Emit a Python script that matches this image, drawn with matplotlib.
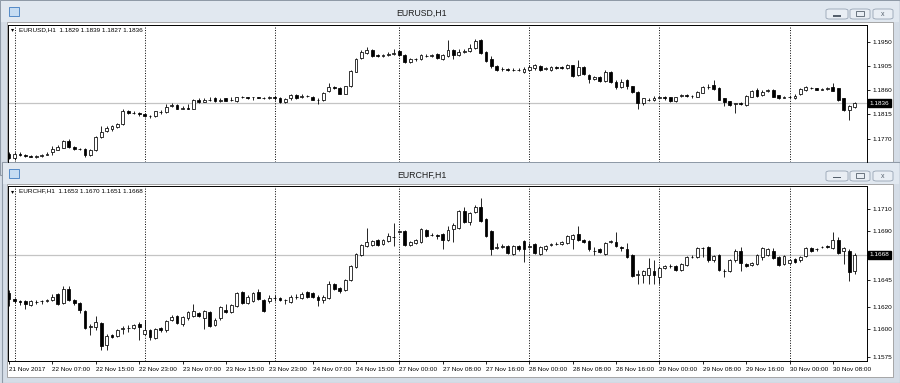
import matplotlib
matplotlib.use("Agg")
import matplotlib.pyplot as plt
import matplotlib.transforms as mtransforms
from matplotlib.patches import Rectangle, FancyBboxPatch
import numpy as np

W, H = 900, 383
FONT = ["Liberation Sans", "DejaVu Sans"]

# hourly bars: 21 Nov 2017 23:00 .. 30 Nov 2017 12:00
day_breaks = [1, 25, 49, 72, 96, 120, 144]
label_bars = [0, 8, 16, 24, 32, 40, 48, 56, 64, 72, 80, 88, 96, 104, 112, 120, 128, 136, 144, 152]
time_labels = ["21 Nov 2017", "22 Nov 07:00", "22 Nov 15:00", "22 Nov 23:00", "23 Nov 07:00",
               "23 Nov 15:00", "23 Nov 23:00", "24 Nov 07:00", "24 Nov 15:00", "27 Nov 00:00",
               "27 Nov 08:00", "27 Nov 16:00", "28 Nov 00:00", "28 Nov 08:00", "28 Nov 16:00",
               "29 Nov 00:00", "29 Nov 08:00", "29 Nov 16:00", "30 Nov 00:00", "30 Nov 08:00"]

usd_open = [1.1742, 1.1733, 1.1741, 1.1740, 1.1737, 1.1736, 1.1737, 1.1740, 1.1744, 1.1749,
            1.1753, 1.1766, 1.1754, 1.1750, 1.1751, 1.1739, 1.1749, 1.1773, 1.1784, 1.1787,
            1.1792, 1.1797, 1.1821, 1.1818, 1.1818, 1.1816, 1.1813, 1.1812, 1.1820, 1.1820,
            1.1830, 1.1833, 1.1826, 1.1827, 1.1826, 1.1843, 1.1839, 1.1843, 1.1845, 1.1840,
            1.1845, 1.1842, 1.1840, 1.1847, 1.1847, 1.1847, 1.1847, 1.1846, 1.1846, 1.1847,
            1.1845, 1.1839, 1.1845, 1.1852, 1.1847, 1.1850, 1.1848, 1.1843, 1.1842, 1.1859,
            1.1866, 1.1865, 1.1854, 1.1869, 1.1895, 1.1920, 1.1930, 1.1935, 1.1927, 1.1925,
            1.1926, 1.1929, 1.1933, 1.1927, 1.1913, 1.1918, 1.1918, 1.1925, 1.1924, 1.1928,
            1.1919, 1.1925, 1.1936, 1.1926, 1.1932, 1.1934, 1.1940, 1.1954, 1.1931, 1.1918,
            1.1906, 1.1900, 1.1900, 1.1898, 1.1898, 1.1895, 1.1899, 1.1901, 1.1906, 1.1900,
            1.1899, 1.1903, 1.1904, 1.1901, 1.1907, 1.1889, 1.1904, 1.1889, 1.1881, 1.1885,
            1.1878, 1.1895, 1.1876, 1.1867, 1.1879, 1.1868, 1.1857, 1.1836, 1.1842, 1.1842,
            1.1846, 1.1847, 1.1847, 1.1840, 1.1849, 1.1851, 1.1849, 1.1848, 1.1856, 1.1866,
            1.1870, 1.1865, 1.1845, 1.1840, 1.1835, 1.1836, 1.1833, 1.1848, 1.1861, 1.1851,
            1.1859, 1.1860, 1.1851, 1.1846, 1.1847, 1.1846, 1.1853, 1.1860, 1.1864, 1.1864,
            1.1861, 1.1862, 1.1866, 1.1864, 1.1845, 1.1823, 1.1829]
usd_high = [1.1744, 1.1745, 1.1744, 1.1742, 1.1739, 1.1740, 1.1742, 1.1744, 1.1756, 1.1758,
            1.1767, 1.1769, 1.1756, 1.1753, 1.1752, 1.1751, 1.1775, 1.1793, 1.1793, 1.1796,
            1.1800, 1.1825, 1.1823, 1.1822, 1.1820, 1.1817, 1.1814, 1.1822, 1.1823, 1.1835,
            1.1836, 1.1834, 1.1831, 1.1835, 1.1844, 1.1845, 1.1845, 1.1848, 1.1848, 1.1845,
            1.1846, 1.1847, 1.1848, 1.1849, 1.1848, 1.1848, 1.1848, 1.1848, 1.1849, 1.1849,
            1.1847, 1.1846, 1.1853, 1.1853, 1.1853, 1.1852, 1.1849, 1.1845, 1.1857, 1.1873,
            1.1868, 1.1867, 1.1869, 1.1898, 1.1920, 1.1935, 1.1942, 1.1937, 1.1929, 1.1928,
            1.1931, 1.1937, 1.1936, 1.1929, 1.1921, 1.1921, 1.1928, 1.1928, 1.1929, 1.1930,
            1.1928, 1.1955, 1.1938, 1.1937, 1.1937, 1.1946, 1.1957, 1.1956, 1.1933, 1.1924,
            1.1908, 1.1903, 1.1902, 1.1901, 1.1901, 1.1903, 1.1907, 1.1909, 1.1907, 1.1903,
            1.1905, 1.1905, 1.1906, 1.1909, 1.1908, 1.1917, 1.1906, 1.1890, 1.1887, 1.1887,
            1.1899, 1.1896, 1.1879, 1.1882, 1.1881, 1.1869, 1.1858, 1.1846, 1.1845, 1.1849,
            1.1850, 1.1850, 1.1848, 1.1848, 1.1853, 1.1853, 1.1851, 1.1858, 1.1868, 1.1872,
            1.1880, 1.1866, 1.1846, 1.1841, 1.1837, 1.1839, 1.1851, 1.1861, 1.1865, 1.1860,
            1.1863, 1.1862, 1.1852, 1.1849, 1.1850, 1.1853, 1.1864, 1.1869, 1.1866, 1.1865,
            1.1864, 1.1866, 1.1873, 1.1865, 1.1846, 1.1832, 1.1839]
usd_low = [1.1731, 1.1730, 1.1737, 1.1735, 1.1735, 1.1734, 1.1736, 1.1739, 1.1739, 1.1748,
           1.1752, 1.1753, 1.1748, 1.1748, 1.1736, 1.1737, 1.1747, 1.1771, 1.1782, 1.1785,
           1.1790, 1.1795, 1.1816, 1.1815, 1.1813, 1.1810, 1.1808, 1.1810, 1.1816, 1.1818,
           1.1829, 1.1825, 1.1825, 1.1825, 1.1825, 1.1837, 1.1838, 1.1841, 1.1839, 1.1839,
           1.1840, 1.1840, 1.1839, 1.1845, 1.1844, 1.1843, 1.1845, 1.1844, 1.1844, 1.1842,
           1.1837, 1.1837, 1.1843, 1.1844, 1.1846, 1.1847, 1.1842, 1.1835, 1.1840, 1.1857,
           1.1862, 1.1853, 1.1853, 1.1866, 1.1894, 1.1918, 1.1928, 1.1923, 1.1922, 1.1923,
           1.1925, 1.1927, 1.1924, 1.1912, 1.1911, 1.1915, 1.1916, 1.1922, 1.1923, 1.1919,
           1.1917, 1.1923, 1.1918, 1.1924, 1.1930, 1.1932, 1.1938, 1.1928, 1.1913, 1.1902,
           1.1896, 1.1897, 1.1896, 1.1896, 1.1896, 1.1893, 1.1897, 1.1899, 1.1897, 1.1898,
           1.1897, 1.1900, 1.1900, 1.1900, 1.1885, 1.1887, 1.1888, 1.1874, 1.1880, 1.1876,
           1.1876, 1.1874, 1.1862, 1.1864, 1.1862, 1.1855, 1.1826, 1.1833, 1.1840, 1.1840,
           1.1845, 1.1843, 1.1839, 1.1839, 1.1848, 1.1848, 1.1845, 1.1847, 1.1855, 1.1862,
           1.1861, 1.1842, 1.1831, 1.1830, 1.1817, 1.1832, 1.1831, 1.1847, 1.1848, 1.1849,
           1.1857, 1.1847, 1.1844, 1.1845, 1.1846, 1.1844, 1.1851, 1.1858, 1.1862, 1.1860,
           1.1860, 1.1860, 1.1858, 1.1840, 1.1821, 1.1805, 1.1827]
usd_close = [1.1733, 1.1741, 1.1740, 1.1737, 1.1736, 1.1737, 1.1740, 1.1741, 1.1751, 1.1755,
             1.1765, 1.1755, 1.1750, 1.1751, 1.1739, 1.1749, 1.1773, 1.1783, 1.1790, 1.1793,
             1.1797, 1.1822, 1.1818, 1.1818, 1.1815, 1.1812, 1.1813, 1.1821, 1.1819, 1.1829,
             1.1832, 1.1826, 1.1827, 1.1826, 1.1842, 1.1839, 1.1843, 1.1843, 1.1840, 1.1843,
             1.1841, 1.1842, 1.1847, 1.1847, 1.1846, 1.1847, 1.1846, 1.1846, 1.1847, 1.1846,
             1.1838, 1.1844, 1.1852, 1.1845, 1.1850, 1.1849, 1.1843, 1.1843, 1.1855, 1.1866,
             1.1865, 1.1854, 1.1868, 1.1896, 1.1918, 1.1932, 1.1936, 1.1925, 1.1924, 1.1926,
             1.1929, 1.1930, 1.1926, 1.1914, 1.1918, 1.1918, 1.1926, 1.1925, 1.1927, 1.1921,
             1.1926, 1.1936, 1.1926, 1.1932, 1.1934, 1.1940, 1.1953, 1.1930, 1.1915, 1.1906,
             1.1899, 1.1900, 1.1898, 1.1898, 1.1899, 1.1900, 1.1904, 1.1907, 1.1898, 1.1901,
             1.1904, 1.1902, 1.1901, 1.1907, 1.1887, 1.1904, 1.1890, 1.1881, 1.1885, 1.1878,
             1.1895, 1.1876, 1.1866, 1.1876, 1.1868, 1.1857, 1.1836, 1.1845, 1.1842, 1.1846,
             1.1847, 1.1846, 1.1840, 1.1847, 1.1851, 1.1850, 1.1849, 1.1857, 1.1867, 1.1867,
             1.1862, 1.1843, 1.1839, 1.1832, 1.1836, 1.1835, 1.1849, 1.1859, 1.1849, 1.1857,
             1.1861, 1.1848, 1.1845, 1.1847, 1.1848, 1.1850, 1.1862, 1.1866, 1.1864, 1.1861,
             1.1862, 1.1864, 1.1859, 1.1842, 1.1823, 1.1830, 1.1836]

chf_open = [1.1633, 1.1628, 1.1626, 1.1626, 1.1622, 1.1625, 1.1626, 1.1626, 1.1627, 1.1632,
            1.1624, 1.1637, 1.1627, 1.1624, 1.1617, 1.1602, 1.1602, 1.1606, 1.1586, 1.1595,
            1.1594, 1.1600, 1.1601, 1.1601, 1.1605, 1.1596, 1.1599, 1.1592, 1.1601, 1.1599,
            1.1609, 1.1612, 1.1605, 1.1610, 1.1612, 1.1615, 1.1610, 1.1616, 1.1604, 1.1610,
            1.1618, 1.1616, 1.1621, 1.1634, 1.1624, 1.1626, 1.1634, 1.1627, 1.1626, 1.1629,
            1.1629, 1.1627, 1.1625, 1.1630, 1.1629, 1.1634, 1.1633, 1.1630, 1.1627, 1.1629,
            1.1641, 1.1638, 1.1636, 1.1645, 1.1657, 1.1668, 1.1676, 1.1677, 1.1682, 1.1678,
            1.1681, 1.1684, 1.1689, 1.1690, 1.1677, 1.1679, 1.1680, 1.1691, 1.1686, 1.1686,
            1.1687, 1.1682, 1.1692, 1.1693, 1.1708, 1.1698, 1.1707, 1.1712, 1.1701, 1.1690,
            1.1674, 1.1675, 1.1676, 1.1669, 1.1676, 1.1681, 1.1675, 1.1678, 1.1669, 1.1673,
            1.1677, 1.1678, 1.1678, 1.1679, 1.1683, 1.1687, 1.1682, 1.1681, 1.1672, 1.1673,
            1.1669, 1.1680, 1.1680, 1.1675, 1.1673, 1.1668, 1.1650, 1.1650, 1.1650, 1.1653,
            1.1648, 1.1656, 1.1658, 1.1658, 1.1654, 1.1659, 1.1666, 1.1666, 1.1674, 1.1675,
            1.1663, 1.1668, 1.1653, 1.1653, 1.1663, 1.1672, 1.1660, 1.1659, 1.1660, 1.1666,
            1.1668, 1.1672, 1.1666, 1.1660, 1.1661, 1.1664, 1.1663, 1.1667, 1.1674, 1.1673,
            1.1675, 1.1676, 1.1674, 1.1682, 1.1672, 1.1672, 1.1653]
chf_high = [1.1636, 1.1629, 1.1627, 1.1627, 1.1627, 1.1627, 1.1627, 1.1628, 1.1632, 1.1633,
            1.1640, 1.1640, 1.1628, 1.1625, 1.1618, 1.1605, 1.1612, 1.1607, 1.1596, 1.1596,
            1.1600, 1.1603, 1.1604, 1.1605, 1.1607, 1.1609, 1.1600, 1.1601, 1.1602, 1.1609,
            1.1613, 1.1613, 1.1612, 1.1617, 1.1623, 1.1616, 1.1618, 1.1617, 1.1610, 1.1621,
            1.1623, 1.1623, 1.1634, 1.1635, 1.1631, 1.1634, 1.1637, 1.1628, 1.1631, 1.1631,
            1.1630, 1.1628, 1.1631, 1.1632, 1.1634, 1.1635, 1.1634, 1.1631, 1.1631, 1.1644,
            1.1642, 1.1639, 1.1646, 1.1659, 1.1670, 1.1678, 1.1693, 1.1682, 1.1683, 1.1683,
            1.1688, 1.1697, 1.1691, 1.1691, 1.1681, 1.1683, 1.1693, 1.1692, 1.1688, 1.1687,
            1.1688, 1.1694, 1.1697, 1.1709, 1.1712, 1.1707, 1.1714, 1.1720, 1.1702, 1.1691,
            1.1679, 1.1678, 1.1677, 1.1677, 1.1677, 1.1682, 1.1679, 1.1679, 1.1676, 1.1677,
            1.1679, 1.1680, 1.1681, 1.1686, 1.1687, 1.1694, 1.1683, 1.1682, 1.1675, 1.1674,
            1.1680, 1.1682, 1.1689, 1.1676, 1.1679, 1.1669, 1.1654, 1.1654, 1.1665, 1.1663,
            1.1658, 1.1659, 1.1660, 1.1659, 1.1661, 1.1667, 1.1668, 1.1675, 1.1675, 1.1676,
            1.1668, 1.1669, 1.1655, 1.1664, 1.1673, 1.1675, 1.1661, 1.1662, 1.1669, 1.1675,
            1.1674, 1.1674, 1.1667, 1.1668, 1.1664, 1.1665, 1.1667, 1.1675, 1.1675, 1.1674,
            1.1676, 1.1677, 1.1689, 1.1684, 1.1675, 1.1673, 1.1670]
chf_low = [1.1621, 1.1624, 1.1622, 1.1619, 1.1621, 1.1623, 1.1623, 1.1625, 1.1626, 1.1622,
           1.1623, 1.1626, 1.1622, 1.1615, 1.1600, 1.1595, 1.1599, 1.1581, 1.1581, 1.1592,
           1.1593, 1.1596, 1.1598, 1.1600, 1.1590, 1.1595, 1.1590, 1.1591, 1.1598, 1.1598,
           1.1608, 1.1605, 1.1603, 1.1609, 1.1611, 1.1611, 1.1600, 1.1602, 1.1603, 1.1609,
           1.1615, 1.1615, 1.1620, 1.1623, 1.1623, 1.1625, 1.1627, 1.1616, 1.1624, 1.1626,
           1.1626, 1.1623, 1.1624, 1.1628, 1.1628, 1.1629, 1.1629, 1.1621, 1.1624, 1.1628,
           1.1636, 1.1633, 1.1635, 1.1644, 1.1656, 1.1667, 1.1675, 1.1676, 1.1676, 1.1677,
           1.1680, 1.1676, 1.1688, 1.1676, 1.1676, 1.1678, 1.1679, 1.1684, 1.1685, 1.1683,
           1.1673, 1.1681, 1.1680, 1.1692, 1.1697, 1.1695, 1.1706, 1.1698, 1.1684, 1.1668,
           1.1673, 1.1674, 1.1669, 1.1668, 1.1672, 1.1662, 1.1674, 1.1669, 1.1668, 1.1672,
           1.1676, 1.1677, 1.1677, 1.1678, 1.1673, 1.1681, 1.1679, 1.1672, 1.1668, 1.1670,
           1.1668, 1.1679, 1.1675, 1.1672, 1.1665, 1.1648, 1.1641, 1.1642, 1.1641, 1.1641,
           1.1641, 1.1655, 1.1656, 1.1653, 1.1653, 1.1658, 1.1665, 1.1665, 1.1666, 1.1662,
           1.1662, 1.1653, 1.1648, 1.1652, 1.1662, 1.1653, 1.1657, 1.1658, 1.1659, 1.1663,
           1.1667, 1.1664, 1.1658, 1.1659, 1.1660, 1.1661, 1.1662, 1.1666, 1.1671, 1.1672,
           1.1674, 1.1674, 1.1673, 1.1669, 1.1660, 1.1644, 1.1651]
chf_close = [1.1628, 1.1626, 1.1625, 1.1623, 1.1626, 1.1625, 1.1626, 1.1627, 1.1630, 1.1623,
             1.1637, 1.1627, 1.1624, 1.1618, 1.1601, 1.1603, 1.1607, 1.1585, 1.1594, 1.1593,
             1.1599, 1.1601, 1.1601, 1.1604, 1.1602, 1.1599, 1.1593, 1.1600, 1.1599, 1.1608,
             1.1611, 1.1606, 1.1611, 1.1616, 1.1617, 1.1612, 1.1617, 1.1603, 1.1609, 1.1620,
             1.1616, 1.1622, 1.1633, 1.1624, 1.1630, 1.1633, 1.1628, 1.1617, 1.1629, 1.1629,
             1.1627, 1.1627, 1.1630, 1.1630, 1.1632, 1.1630, 1.1630, 1.1627, 1.1630, 1.1641,
             1.1637, 1.1635, 1.1645, 1.1658, 1.1669, 1.1677, 1.1680, 1.1681, 1.1677, 1.1682,
             1.1685, 1.1684, 1.1690, 1.1677, 1.1680, 1.1682, 1.1692, 1.1685, 1.1686, 1.1685,
             1.1682, 1.1691, 1.1695, 1.1708, 1.1698, 1.1706, 1.1712, 1.1699, 1.1685, 1.1673,
             1.1675, 1.1676, 1.1670, 1.1676, 1.1673, 1.1673, 1.1676, 1.1670, 1.1675, 1.1676,
             1.1678, 1.1678, 1.1680, 1.1685, 1.1686, 1.1682, 1.1680, 1.1673, 1.1672, 1.1671,
             1.1679, 1.1681, 1.1676, 1.1674, 1.1666, 1.1649, 1.1651, 1.1653, 1.1656, 1.1650,
             1.1656, 1.1658, 1.1658, 1.1654, 1.1660, 1.1666, 1.1666, 1.1674, 1.1674, 1.1663,
             1.1667, 1.1654, 1.1653, 1.1663, 1.1672, 1.1661, 1.1658, 1.1661, 1.1668, 1.1674,
             1.1673, 1.1665, 1.1659, 1.1667, 1.1663, 1.1662, 1.1666, 1.1674, 1.1672, 1.1673,
             1.1675, 1.1675, 1.1682, 1.1670, 1.1674, 1.1652, 1.1668]

usd_ticks = [1.1950, 1.1905, 1.1860, 1.1815, 1.1770]
chf_ticks = [1.1710, 1.1690, 1.1665, 1.1645, 1.1620, 1.1600, 1.1575]


def fx(x):
    return x / W


def fy(y):
    return 1 - y / H


def box(fig, x0, y0, x1, y1, z, **kw):
    fig.add_artist(Rectangle((fx(x0), fy(y1)), (x1 - x0) / W, (y1 - y0) / H,
                             transform=fig.transFigure, zorder=z, **kw))


def window(fig, left, top, bottom, title, z):
    # frame, title bar and white client area of one chart window
    box(fig, left, top, 900, bottom, z, fc="#d5dde7", ec="#8f9aa7", lw=0.8)
    box(fig, left + 1, top + 1, 899, top + 22, z + 0.1, fc="#e1e8f0", ec="none")
    box(fig, 7, top + 22, 893, bottom - 6, z + 0.2, fc="white", ec="#9a9a9a", lw=0.6)
    box(fig, 9, top + 7, 19, top + 16, z + 0.3, fc="#c6dcf2", ec="#3f7cc0", lw=0.6)
    fig.text(fx(422), fy(top + 13), title, ha="center", va="center", fontsize=6.3,
             family=FONT, color="#1e1e1e", zorder=z + 0.4)
    for bx0, bx1 in [(826, 848), (850, 870), (873, 893)]:
        fig.add_artist(FancyBboxPatch((fx(bx0), fy(top + 19)), (bx1 - bx0) / W, 10 / H,
                                      boxstyle="round,pad=0,rounding_size=0.004",
                                      transform=fig.transFigure, fc="#e9eef4", ec="#97a4b4",
                                      lw=0.6, zorder=z + 0.3))
    cy = top + 14
    box(fig, 833, cy + 1, 841, cy + 2.5, z + 0.4, fc="#55606c", ec="none")
    box(fig, 856, cy - 3, 864, cy + 2, z + 0.4, fc="none", ec="#55606c", lw=0.6)
    fig.text(fx(883), fy(cy), "x", ha="center", va="center", fontsize=5, family=FONT,
             color="#55606c", zorder=z + 0.4)


def candles(ax, o, h, l, c, ylo, yhi, ticks, name):
    o, h, l, c = map(np.asarray, (o, h, l, c))
    x = np.arange(len(o))
    ax.set_xlim(-0.2, 158.3)
    ax.set_ylim(ylo, yhi)
    ax.set_facecolor("white")
    ax.axhline(c[-1], color="#c4c4c4", lw=0.9, zorder=1)
    for b in day_breaks:
        ax.axvline(b, color="black", lw=0.7, ls=(0, (1, 1.6)), zorder=2)
    ax.vlines(x, l, h, color="black", lw=0.6, zorder=3)
    colors = np.where(c >= o, "white", "black")
    ax.bar(x, np.abs(c - o), width=0.52, bottom=np.minimum(o, c), color=colors,
           edgecolor="black", linewidth=0.55, zorder=4)
    for s in ax.spines.values():
        s.set_linewidth(0.7)
        s.set_color("black")
    ax.yaxis.tick_right()
    ax.set_yticks(ticks)
    ax.set_yticklabels([f"{v:.4f}" for v in ticks], family=FONT)
    ax.tick_params(axis="y", length=2.2, width=0.6, labelsize=4.6, pad=1.5)
    trans = mtransforms.blended_transform_factory(ax.transAxes, ax.transData)
    ax.text(1.003, c[-1], f"{c[-1]:.4f}", transform=trans, ha="left", va="center",
            fontsize=4.6, family=FONT, color="white", zorder=6, clip_on=False,
            bbox=dict(boxstyle="square,pad=0.25", fc="black", ec="black"))
    ax.text(0.004, 0.985, "\u25be", transform=ax.transAxes, ha="left", va="top",
            fontsize=4.5, family=FONT, color="black")
    ax.text(0.0125, 0.985, f"{name},H1  {o[-1]:.4f} {h[-1]:.4f} {l[-1]:.4f} {c[-1]:.4f}",
            transform=ax.transAxes, ha="left", va="top", fontsize=4.6, family=FONT,
            color="black")


fig = plt.figure(figsize=(W / 100, H / 100), dpi=100)
fig.patch.set_facecolor("#d5dde7")

window(fig, 0, 0, 175, "EURUSD,H1", -10)
window(fig, 2, 162, 383, "EURCHF,H1", -5)

ax1 = fig.add_axes([fx(8), fy(162), (867 - 8) / W, (162 - 25) / H])
candles(ax1, usd_open, usd_high, usd_low, usd_close, 1.17262, 1.19823, usd_ticks, "EURUSD")
ax1.spines["bottom"].set_visible(False)
ax1.set_xticks([])

ax2 = fig.add_axes([fx(8), fy(361), (867 - 8) / W, (361 - 186) / H])
candles(ax2, chf_open, chf_high, chf_low, chf_close, 1.15711, 1.17310, chf_ticks, "EURCHF")
ax2.set_xticks(label_bars)
ax2.set_xticklabels(time_labels, family=FONT, ha="left")
ax2.tick_params(axis="x", length=2.5, width=0.6, labelsize=4.6, pad=2)

fig.savefig("out.png", dpi=100, facecolor=fig.get_facecolor())
